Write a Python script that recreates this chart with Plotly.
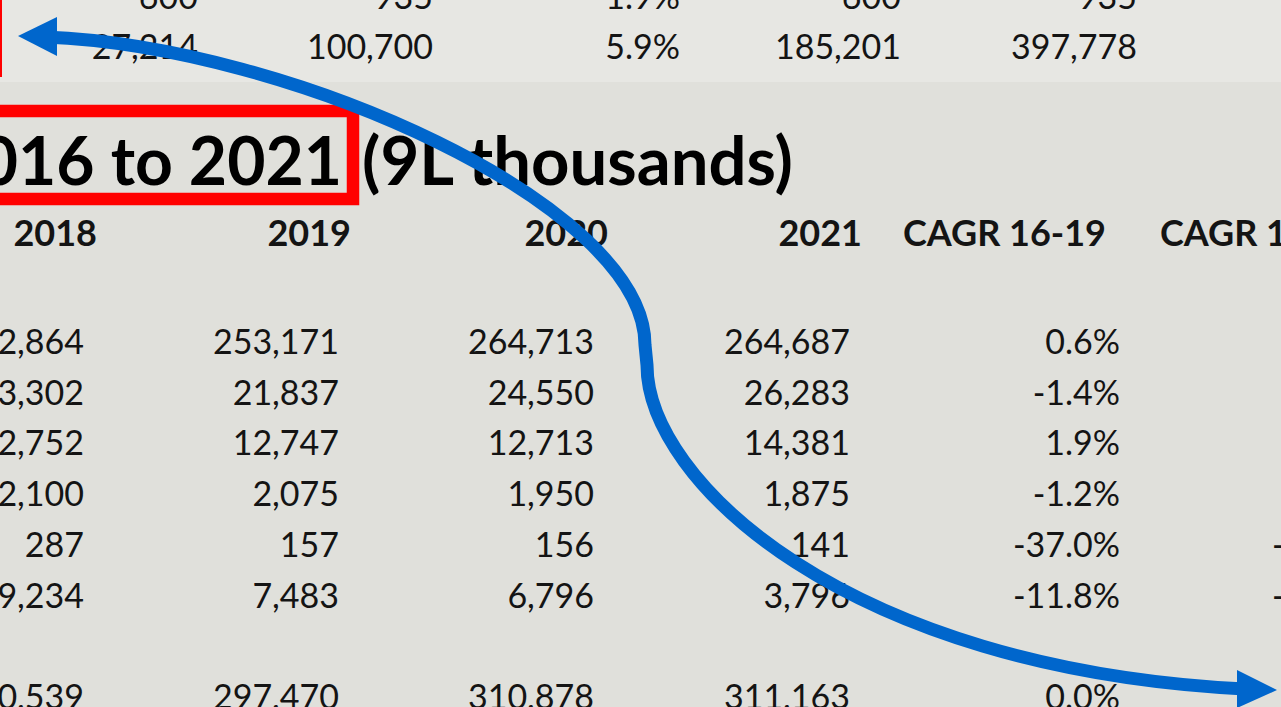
import plotly.graph_objects as go

# ---------------- data ----------------
# upper (partially visible) table, last two rows
upper_col1 = ["600", "27,214"]
upper_col2 = ["935", "100,700"]
upper_col3 = ["1.9%", "5.9%"]
upper_col4 = ["600", "185,201"]
upper_col5 = ["935", "397,778"]

title_left = "2016 to 2021"
title_right = "(9L thousands)"

headers = ["2018", "2019", "2020", "2021", "CAGR 16-19", "CAGR 16-21"]
v2018 = ["252,864", "23,302", "12,752", "2,100", "287", "9,234", "300,539"]
v2019 = ["253,171", "21,837", "12,747", "2,075", "157", "7,483", "297,470"]
v2020 = ["264,713", "24,550", "12,713", "1,950", "156", "6,796", "310,878"]
v2021 = ["264,687", "26,283", "14,381", "1,875", "141", "3,796", "311,163"]
cagr_16_19 = ["0.6%", "-1.4%", "1.9%", "-1.2%", "-37.0%", "-11.8%", "0.0%"]
cagr_16_21 = ["1.3%", "2.9%", "3.6%", "-2.7%", "-25.8%", "-19.0%", "0.9%"]

# ---------------- layout constants ----------------
W, H = 1281, 707
BG = "#e0e0db"
TXT = "#141414"
BLUE = "#0066CC"
RED = "#FF0000"
FONT = "Lato"

upper_x = [198, 433, 680, 901, 1137]
upper_y = [0, 50]
data_x = [84, 339, 594, 850, 1120, 1379]
head_x = [97, 351, 608, 862, 1106, 1363]
row_y = [345, 396, 446, 497, 548, 599, 700]
head_y = 237
title_y = 168

fig = go.Figure()


def add_col(texts, x, ys, size, bold=False):
    fig.add_trace(go.Scatter(
        x=[x] * len(texts), y=ys, text=texts, mode="text",
        textposition="middle left", hoverinfo="skip", cliponaxis=True,
        textfont=dict(family=FONT, size=size, color=TXT,
                      weight="bold" if bold else "normal"),
    ))


for col, x in zip([upper_col1, upper_col2, upper_col3, upper_col4, upper_col5], upper_x):
    add_col(col, x, upper_y, 34)

for h, x in zip(headers, head_x):
    add_col([h], x, [head_y], 36, bold=True)

for col, x in zip([v2018, v2019, v2020, v2021, cagr_16_19, cagr_16_21], data_x):
    add_col(col, x, row_y, 34)

# title
fig.add_trace(go.Scatter(x=[342], y=[title_y], text=[title_left], mode="text",
                         textposition="middle left", hoverinfo="skip",
                         textfont=dict(family=FONT, size=66, color="#000000", weight="bold")))
fig.add_trace(go.Scatter(x=[362], y=[title_y], text=[title_right], mode="text",
                         textposition="middle right", hoverinfo="skip",
                         textfont=dict(family=FONT, size=67, color="#000000", weight="bold")))

# blue curved double-headed arrow (decorative annotation)
arrow_path = ("M 45,37 C 290,46 645,205 645,345 L 647,365 "
              "C 647,480 845,669 1245,689")

shapes = [
    dict(type="rect", xref="x", yref="y", x0=0, x1=W, y0=0, y1=82,
         fillcolor="#e7e7e3", line=dict(width=0), layer="below"),
    dict(type="rect", xref="x", yref="y", x0=-60, x1=-4, y0=-30, y1=71,
         line=dict(color=RED, width=12), layer="above"),
    dict(type="rect", xref="x", yref="y", x0=-40, x1=353, y0=111, y1=199,
         line=dict(color=RED, width=12.5), layer="above"),
    dict(type="path", xref="x", yref="y", path=arrow_path,
         fillcolor="rgba(0,0,0,0)", line=dict(color=BLUE, width=13), layer="above"),
    dict(type="path", xref="x", yref="y", path="M 18,36 L 57,17 L 57,56 Z",
         fillcolor=BLUE, line=dict(width=0), layer="above"),
    dict(type="path", xref="x", yref="y", path="M 1277,690 L 1237,670 L 1237,708 Z",
         fillcolor=BLUE, line=dict(width=0), layer="above"),
]

fig.update_layout(
    width=W, height=H, margin=dict(l=0, r=0, t=0, b=0),
    paper_bgcolor=BG, plot_bgcolor=BG, showlegend=False,
    xaxis=dict(range=[0, W], visible=False, fixedrange=True),
    yaxis=dict(range=[H, 0], visible=False, fixedrange=True),
    shapes=shapes,
)

fig.write_html(
    "out.html",
    config={"displayModeBar": False},
    post_script="document.body.style.margin='0px';document.body.style.overflow='hidden';",
)
